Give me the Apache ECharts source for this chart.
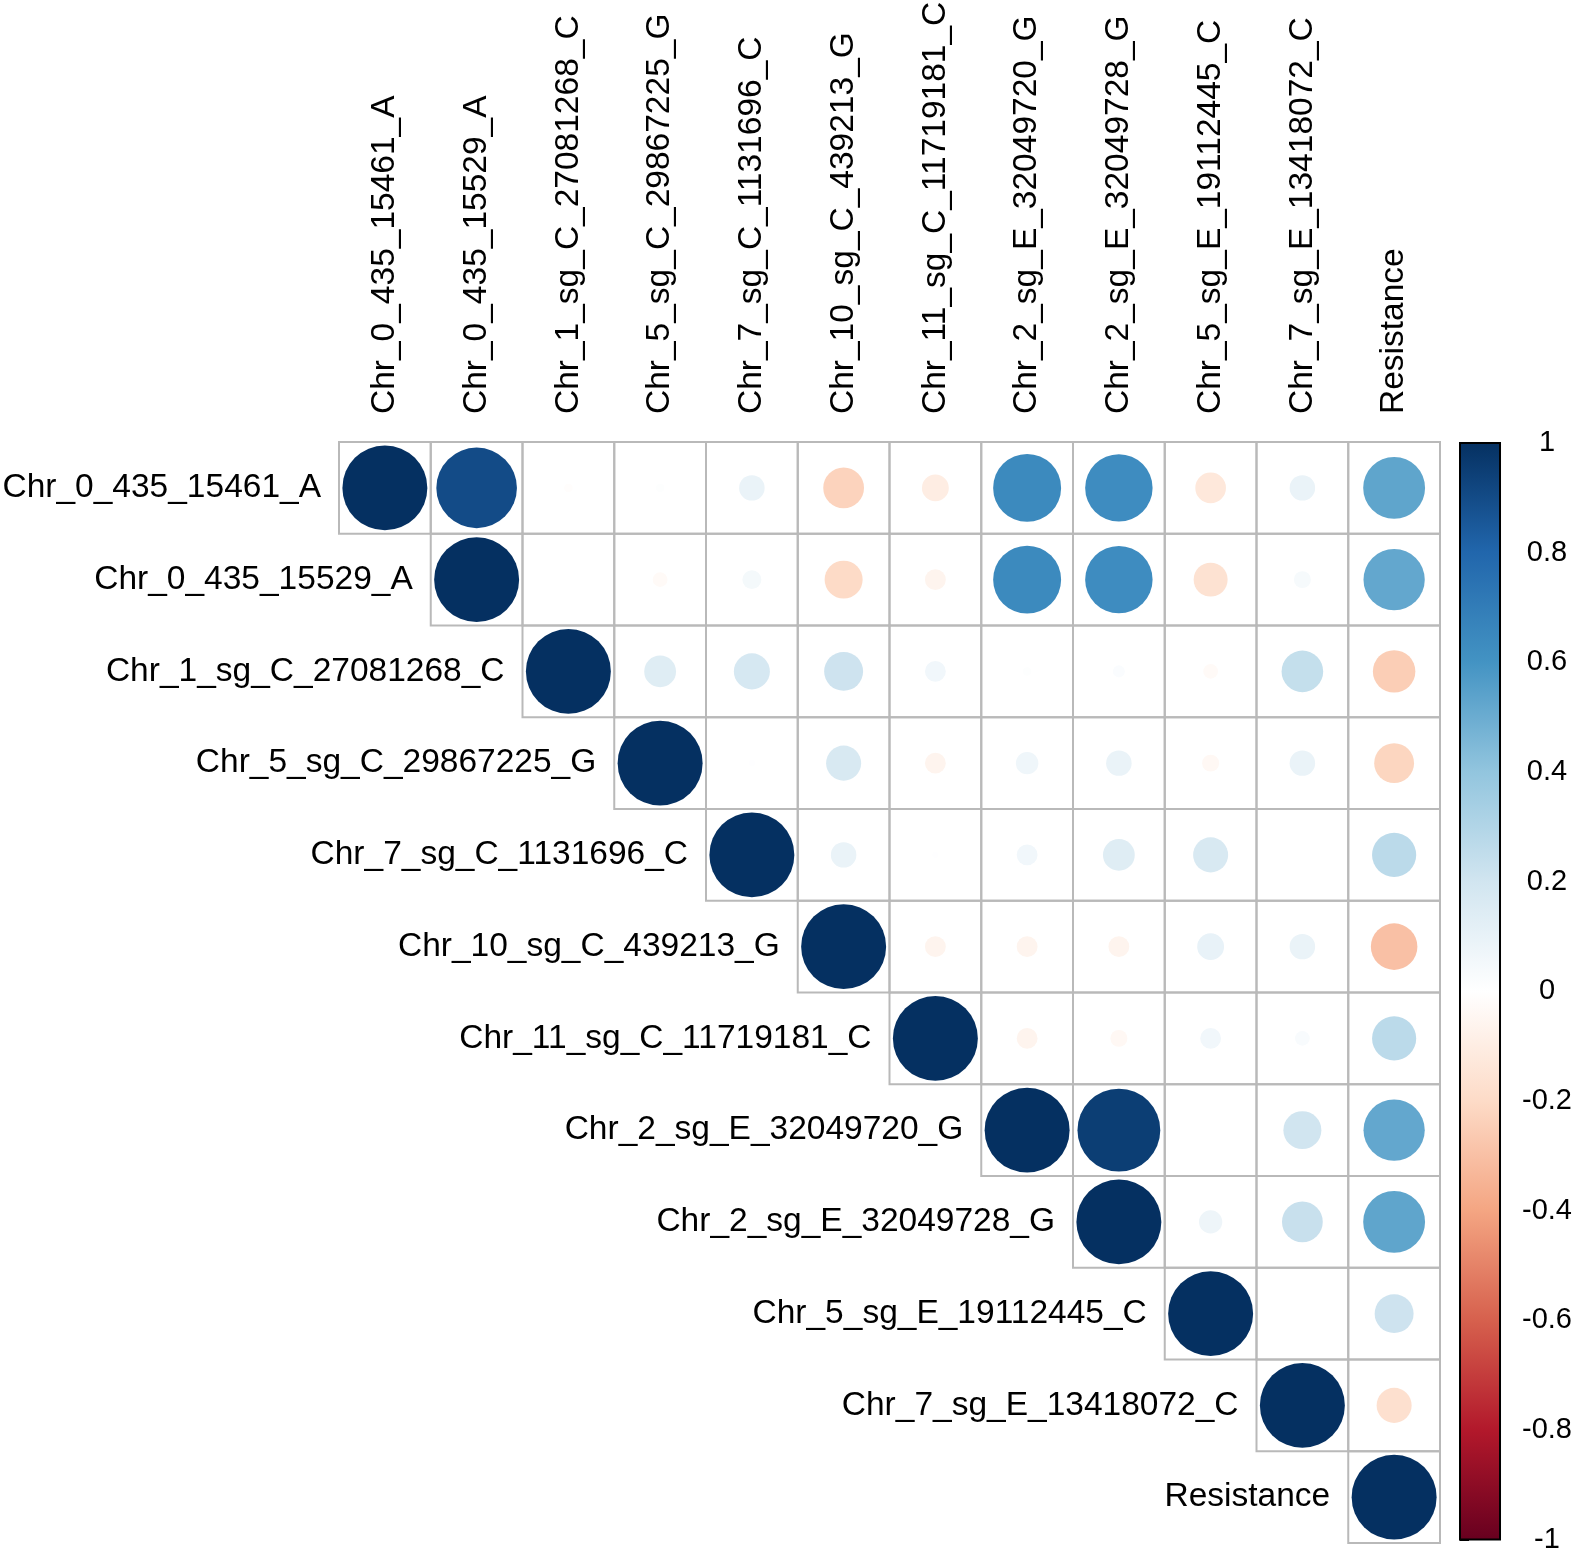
<!DOCTYPE html>
<html>
<head>
<meta charset="utf-8">
<script src="https://cdn.jsdelivr.net/npm/echarts@6/dist/echarts.min.js"></script>
<style>
html,body{margin:0;padding:0;background:#ffffff;}
#chart{width:1575px;height:1554px;}
</style>
</head>
<body>
<div id="chart"></div>
<script>
// ---- data ----
const variables = [
  'Chr_0_435_15461_A','Chr_0_435_15529_A','Chr_1_sg_C_27081268_C','Chr_5_sg_C_29867225_G',
  'Chr_7_sg_C_1131696_C','Chr_10_sg_C_439213_G','Chr_11_sg_C_11719181_C','Chr_2_sg_E_32049720_G',
  'Chr_2_sg_E_32049728_G','Chr_5_sg_E_19112445_C','Chr_7_sg_E_13418072_C','Resistance'
];
// upper-triangle rows: row i holds correlations with columns i..11
const corrRow0  = [1, 0.90, -0.01, 0.01, 0.09, -0.23, -0.10, 0.64, 0.63, -0.13, 0.09, 0.53];
const corrRow1  = [1, 0.00, -0.03, 0.05, -0.20, -0.06, 0.64, 0.63, -0.16, 0.04, 0.52];
const corrRow2  = [1, 0.14, 0.18, 0.21, 0.06, 0.01, 0.02, -0.03, 0.24, -0.25];
const corrRow3  = [1, 0.005, 0.17, -0.06, 0.07, 0.09, -0.04, 0.09, -0.22];
const corrRow4  = [1, 0.09, 0.005, 0.06, 0.14, 0.17, 0.0, 0.27];
const corrRow5  = [1, -0.06, -0.06, -0.06, 0.10, 0.09, -0.30];
const corrRow6  = [1, -0.06, -0.04, 0.06, 0.03, 0.27];
const corrRow7  = [1, 0.95, 0.0, 0.20, 0.52];
const corrRow8  = [1, 0.075, 0.23, 0.53];
const corrRow9  = [1, 0.0, 0.21];
const corrRow10 = [1, -0.17];
const corrRow11 = [1];
const corrRows = [corrRow0, corrRow1, corrRow2, corrRow3, corrRow4, corrRow5,
                  corrRow6, corrRow7, corrRow8, corrRow9, corrRow10, corrRow11];
const paletteRdBu = ['#67001F','#B2182B','#D6604D','#F4A582','#FDDBC7','#FFFFFF',
                     '#D1E5F0','#92C5DE','#4393C3','#2166AC','#053061'];
const legendMin = -1, legendMax = 1, legendStep = 0.2;

// ---- build series data ----
const cellData = [];
corrRows.forEach((row, i) => {
  row.forEach((v, k) => { cellData.push([i + k, i, v]); });
});
const rowLabelData = variables.map((name, i) => [i, i]);
const colLabelData = variables.map((name, i) => [i, 0]);

const FONT = '"Liberation Sans", Arial, Helvetica, sans-serif';
const chart = echarts.init(document.getElementById('chart'), null, {renderer: 'canvas'});

const gradStops = paletteRdBu.slice().reverse().map((c, i) => ({offset: i / (paletteRdBu.length - 1), color: c}));

chart.setOption({
  backgroundColor: '#ffffff',
  animation: false,
  grid: [
    {left: 339, top: 442, width: 1101, height: 1101, containLabel: false},
    {left: 1460, top: 443, width: 41, height: 1100, containLabel: false}
  ],
  xAxis: [
    {
      type: 'category', data: variables, position: 'top', gridIndex: 0,
      axisLine: {show: false}, axisTick: {show: false}, splitLine: {show: false},
      axisLabel: {show: false}
    },
    {type: 'value', gridIndex: 1, min: 0, max: 1, show: false}
  ],
  yAxis: [
    {
      type: 'category', data: variables, inverse: true, gridIndex: 0,
      axisLine: {show: false}, axisTick: {show: false}, axisLabel: {show: false}, splitLine: {show: false}
    },
    {
      type: 'value', gridIndex: 1, min: legendMin, max: legendMax, interval: legendStep, position: 'right',
      axisLine: {show: true, lineStyle: {color: '#000', width: 2}},
      axisTick: {show: true, length: 9, lineStyle: {color: '#000', width: 2}},
      splitLine: {show: false},
      axisLabel: {
        margin: 47, align: 'center', color: '#000', fontSize: 29, fontFamily: FONT,
        formatter: v => String(Math.round(v * 10) / 10)
      }
    }
  ],
  visualMap: {
    type: 'continuous', show: false, min: legendMin, max: legendMax, dimension: 2,
    seriesIndex: 1, inRange: {color: paletteRdBu}
  },
  series: [
    {
      type: 'custom', name: 'cells', xAxisIndex: 0, yAxisIndex: 0, data: cellData,
      encode: {x: 0, y: 1}, z: 1,
      renderItem: (params, api) => {
        const c = api.coord([api.value(0), api.value(1)]);
        const s = api.size([1, 1]);
        return {
          type: 'rect',
          shape: {x: c[0] - s[0] / 2, y: c[1] - s[1] / 2, width: s[0], height: s[1]},
          style: {fill: 'none', stroke: '#b9b9b9', lineWidth: 2}
        };
      }
    },
    {
      type: 'custom', name: 'circles', xAxisIndex: 0, yAxisIndex: 0, data: cellData,
      encode: {x: 0, y: 1}, z: 2,
      renderItem: (params, api) => {
        const c = api.coord([api.value(0), api.value(1)]);
        const s = api.size([1, 1]);
        const v = api.value(2);
        const r = 0.463 * Math.min(s[0], s[1]) * Math.sqrt(Math.abs(v));
        return {
          type: 'circle',
          shape: {cx: c[0], cy: c[1], r: r},
          style: {fill: api.visual('color')}
        };
      }
    },
    {
      type: 'custom', name: 'rowLabels', xAxisIndex: 0, yAxisIndex: 0, data: rowLabelData,
      encode: {x: 0, y: 1}, z: 3, silent: true,
      renderItem: (params, api) => {
        const c = api.coord([api.value(0), api.value(1)]);
        const s = api.size([1, 1]);
        return {
          type: 'text',
          x: c[0] - s[0] / 2 - 18, y: c[1],
          style: {
            text: variables[params.dataIndex], fill: '#000', fontSize: 33.5, fontFamily: FONT,
            align: 'right', verticalAlign: 'middle'
          }
        };
      }
    },
    {
      type: 'custom', name: 'colLabels', xAxisIndex: 0, yAxisIndex: 0, data: colLabelData,
      encode: {x: 0, y: 1}, z: 3, silent: true, clip: false,
      renderItem: (params, api) => {
        const c = api.coord([api.value(0), api.value(1)]);
        const s = api.size([1, 1]);
        return {
          type: 'text',
          x: c[0], y: c[1] - s[1] / 2 - 28,
          rotation: Math.PI / 2,
          style: {
            text: variables[params.dataIndex], fill: '#000', fontSize: 33.5, fontFamily: FONT,
            align: 'left', verticalAlign: 'middle'
          }
        };
      }
    },
    {
      type: 'custom', name: 'colorbar', xAxisIndex: 1, yAxisIndex: 1, data: [[0, legendMax, 1, legendMin]],
      encode: {x: 0, y: 1}, z: 1, silent: true,
      renderItem: (params, api) => {
        const p0 = api.coord([api.value(0), api.value(1)]);
        const p1 = api.coord([api.value(2), api.value(3)]);
        return {
          type: 'rect',
          shape: {x: p0[0], y: p0[1], width: p1[0] - p0[0], height: p1[1] - p0[1]},
          style: {
            fill: {type: 'linear', x: 0, y: 0, x2: 0, y2: 1, colorStops: gradStops},
            stroke: '#000', lineWidth: 2
          }
        };
      }
    }
  ]
});
</script>
</body>
</html>
